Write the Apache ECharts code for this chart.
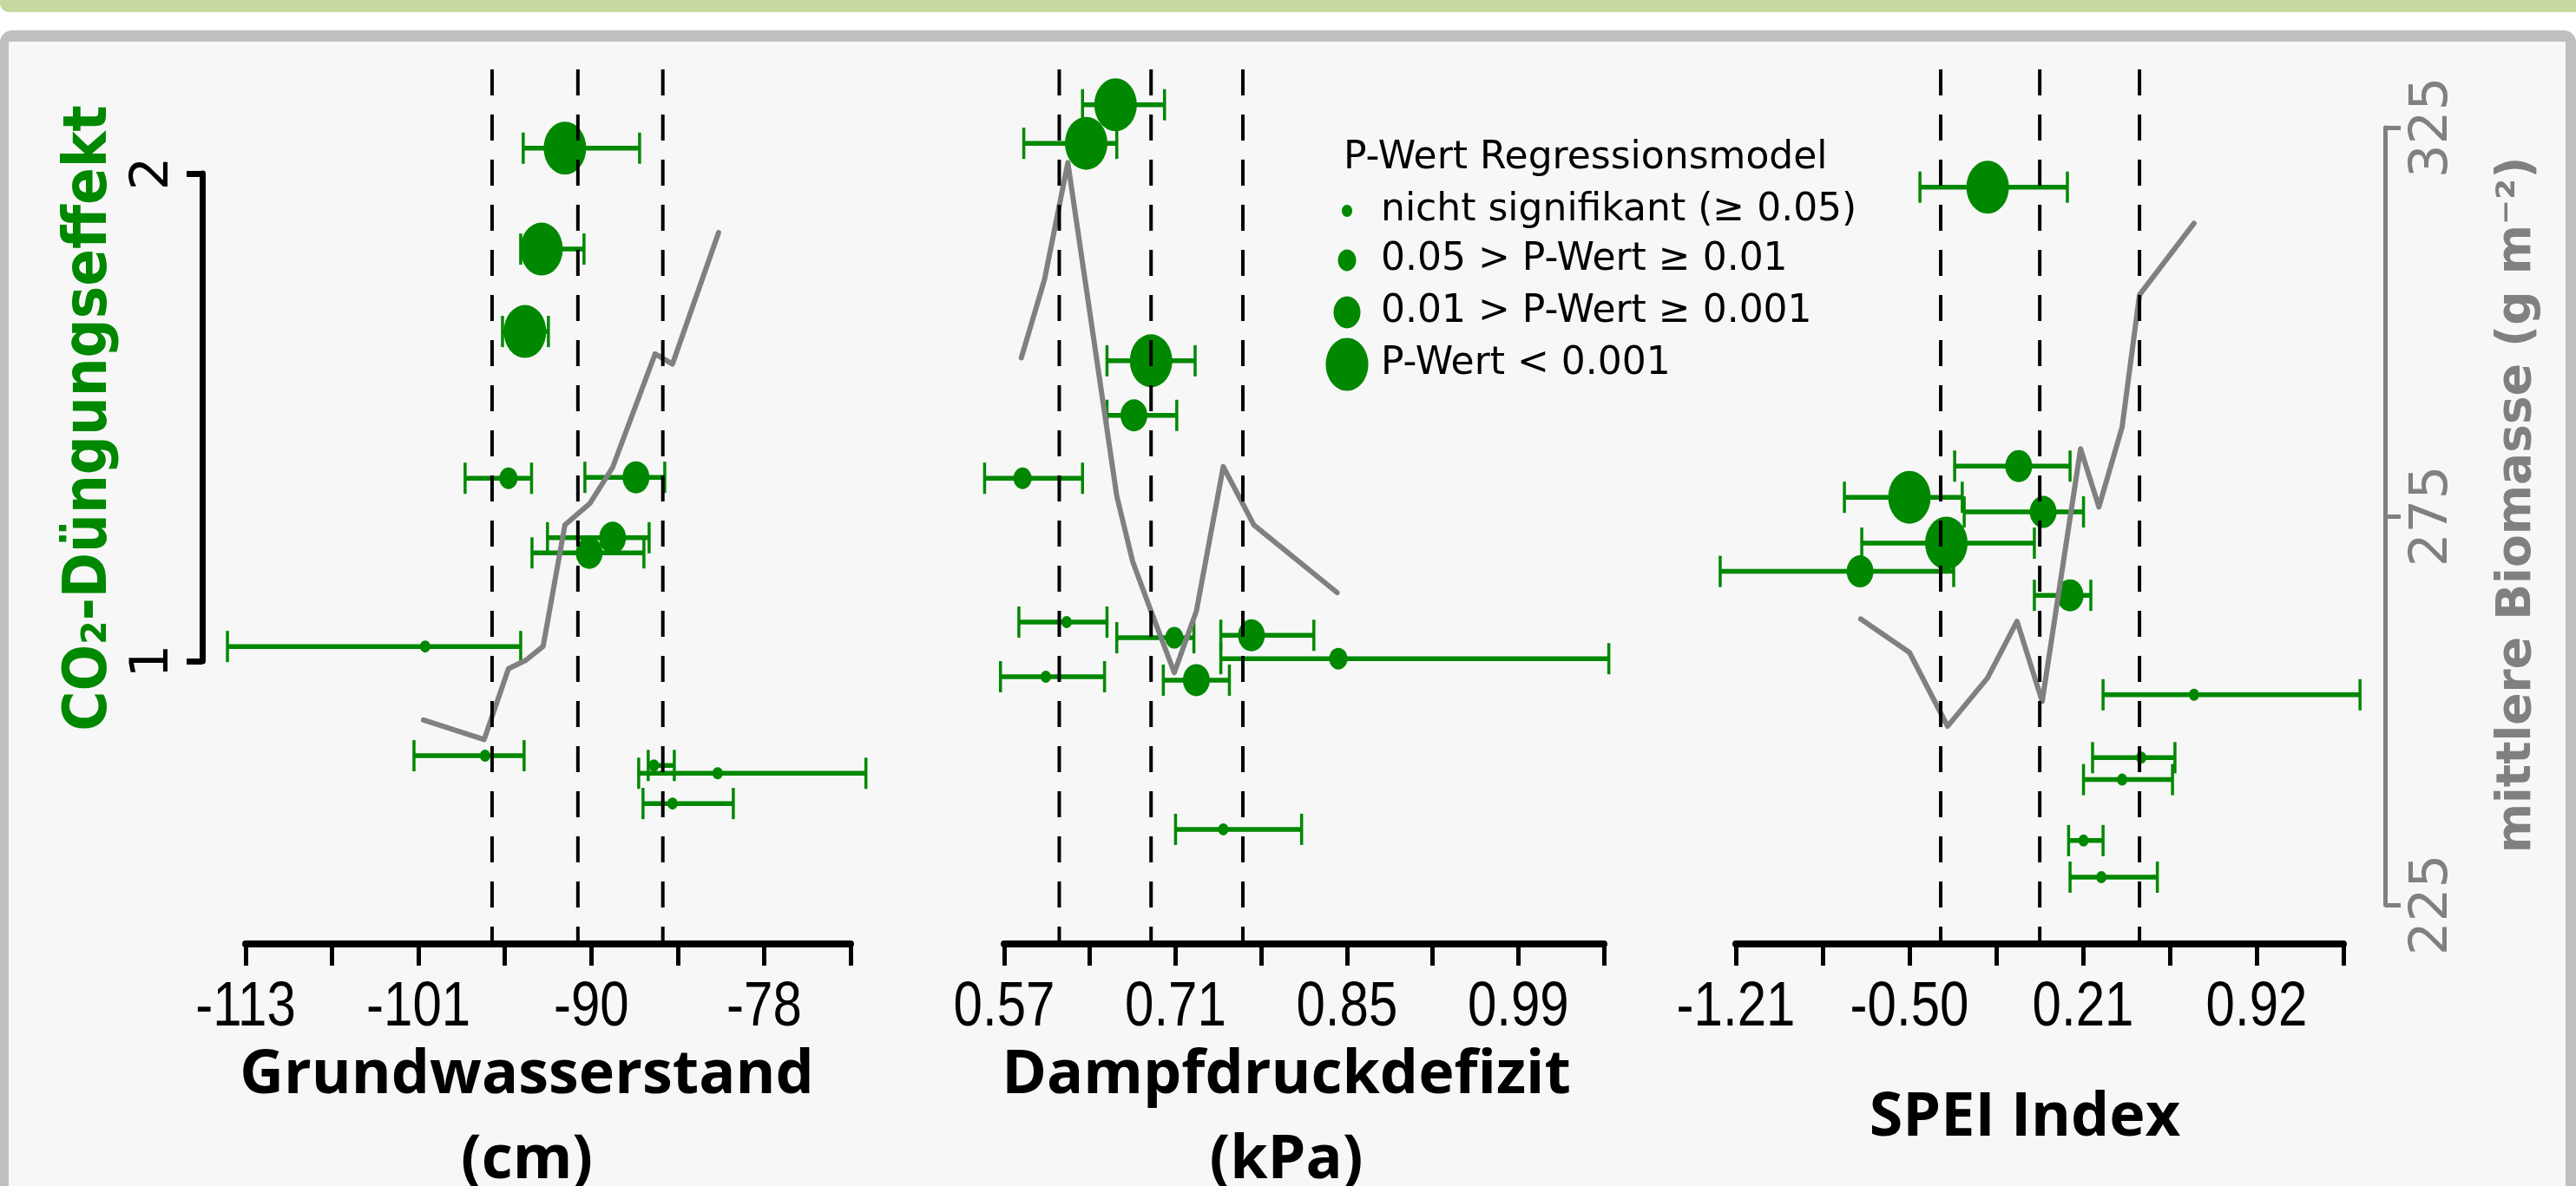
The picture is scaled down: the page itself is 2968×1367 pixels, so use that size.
<!DOCTYPE html>
<html>
<head>
<meta charset="utf-8">
<title>CO2-Düngungseffekt</title>
<script src="https://cdn.jsdelivr.net/npm/echarts@6/dist/echarts.min.js"></script>
<style>
html, body { margin: 0; padding: 0; width: 2968px; height: 1367px; overflow: hidden; background: #ffffff; }
.topbar { position: absolute; left: 0; top: 0; width: 2968px; height: 14px; background: #c5d9a1; border-radius: 0 0 0 10px; }
.frame { position: absolute; left: 0; top: 35px; width: 2946px; height: 1400px; background: #f7f7f7;
  border: 13px solid #bfbfbf; border-left-width: 10px; border-right-width: 12px; border-radius: 14px 14px 0 0; }
#chart { position: absolute; left: 0; top: 0; width: 2968px; height: 1367px; }
</style>
</head>
<body>
<div class="topbar"></div>
<div class="frame"></div>
<div id="chart"></div>
<script>
// Grundwasserstand (cm)
const gwMean = [-91.57, -93.14, -94.25, -95.36, -86.80, -88.37, -89.94, -100.95, -96.93, -85.60, -81.32, -84.35];
const gwLow = [-94.37, -94.54, -95.76, -98.27, -90.23, -92.74, -93.78, -114.22, -101.70, -85.98, -86.62, -86.33];
const gwHigh = [-86.56, -90.29, -92.68, -93.81, -84.87, -85.92, -86.27, -94.54, -94.31, -84.23, -71.37, -80.27];
const gwEffect = [2.052, 1.845, 1.676, 1.375, 1.377, 1.253, 1.222, 1.030, 0.806, 0.786, 0.770, 0.708];
const gwPClass = [3, 3, 3, 1, 2, 2, 2, 0, 0, 0, 0, 0];
const gwLineX = [-101.06, -96.99, -95.36, -94.19, -93.03, -91.57, -89.88, -88.37, -85.52, -84.35, -81.26];
const gwBiomass = [248.8, 246.3, 255.4, 256.5, 258.3, 273.9, 276.7, 281.3, 295.9, 294.6, 311.5];
const gwDashed = [-96.46, -90.70, -85.00];
const gwTicks = [-113, -107.2, -101.4, -95.6, -89.8, -84, -78.2, -72.4];
const gwTickLabels = ['-113', '', '-101', '', '-90', '', '-78', ''];

// Dampfdruckdefizit (kPa)
const vpdMean = [0.661, 0.637, 0.690, 0.676, 0.585, 0.621, 0.709, 0.772, 0.843, 0.604, 0.727, 0.749];
const vpdLow = [0.634, 0.586, 0.654, 0.654, 0.554, 0.582, 0.662, 0.747, 0.747, 0.567, 0.700, 0.710];
const vpdHigh = [0.701, 0.662, 0.726, 0.711, 0.634, 0.654, 0.725, 0.823, 1.064, 0.652, 0.754, 0.813];
const vpdEffect = [2.141, 2.062, 1.616, 1.504, 1.375, 1.080, 1.048, 1.053, 1.005, 0.968, 0.961, 0.655];
const vpdPClass = [3, 3, 3, 2, 1, 0, 1, 2, 1, 0, 2, 0];
const vpdLineX = [0.584, 0.603, 0.622, 0.662, 0.675, 0.690, 0.709, 0.727, 0.749, 0.774, 0.842];
const vpdBiomass = [295.4, 305.5, 320.5, 277.6, 269.2, 262.8, 254.9, 262.8, 281.4, 273.9, 265.2];
const vpdDashed = [0.615, 0.690, 0.765];
const vpdTicks = [0.57, 0.64, 0.71, 0.78, 0.85, 0.92, 0.99, 1.06];
const vpdTickLabels = ['0.57', '', '0.71', '', '0.85', '', '0.99', ''];

// SPEI Index
const speiMean = [-0.180, -0.053, -0.500, 0.047, -0.349, -0.702, 0.157, 0.664, 0.448, 0.370, 0.212, 0.285];
const speiLow = [-0.457, -0.315, -0.766, -0.276, -0.695, -1.274, 0.011, 0.292, 0.249, 0.212, 0.151, 0.157];
const speiHigh = [0.146, 0.157, -0.284, 0.212, 0.011, -0.319, 0.242, 1.343, 0.586, 0.576, 0.292, 0.514];
const speiEffect = [1.972, 1.400, 1.336, 1.306, 1.242, 1.184, 1.135, 0.931, 0.802, 0.757, 0.632, 0.557];
const speiPClass = [3, 2, 3, 2, 3, 2, 2, 0, 0, 0, 0, 0];
const speiLineX = [-0.699, -0.500, -0.344, -0.181, -0.060, 0.043, 0.200, 0.275, 0.370, 0.441, 0.664];
const speiBiomass = [261.8, 257.5, 248.0, 254.2, 261.5, 251.2, 283.7, 276.2, 286.5, 303.5, 312.7];
const speiDashed = [-0.372, 0.033, 0.441];
const speiTicks = [-1.21, -0.855, -0.5, -0.145, 0.21, 0.565, 0.92, 1.275];
const speiTickLabels = ['-1.21', '', '-0.50', '', '0.21', '', '0.92', ''];

// Achsen links / rechts
const effectTicks = [1, 2];
const effectTickLabels = ['1', '2'];
const biomassTicks = [225, 275, 325];
const biomassTickLabels = ['225', '275', '325'];

const legendTitle = 'P-Wert Regressionsmodel';
const legendLabels = ['nicht signifikant (\u2265 0.05)', '0.05 > P-Wert \u2265 0.01', '0.01 > P-Wert \u2265 0.001', 'P-Wert < 0.001'];

const GREEN = '#008800';
const GREY = '#808080';
const SIZES = [[12, 14], [21, 25], [31, 37], [49, 61]]; // Punktgröße je P-Wert-Klasse
const EFFECT_MIN = 0.42, EFFECT_MAX = 2.2135;
const BIOMASS_MIN = 220, BIOMASS_MAX = 332.5;

const panels = [
  { left: 283, width: 697, ticks: gwTicks, labels: gwTickLabels, mean: gwMean, low: gwLow, high: gwHigh,
    effect: gwEffect, pClass: gwPClass, lineX: gwLineX, biomass: gwBiomass, dashed: gwDashed },
  { left: 1157, width: 691, ticks: vpdTicks, labels: vpdTickLabels, mean: vpdMean, low: vpdLow, high: vpdHigh,
    effect: vpdEffect, pClass: vpdPClass, lineX: vpdLineX, biomass: vpdBiomass, dashed: vpdDashed },
  { left: 2000, width: 700, ticks: speiTicks, labels: speiTickLabels, mean: speiMean, low: speiLow, high: speiHigh,
    effect: speiEffect, pClass: speiPClass, lineX: speiLineX, biomass: speiBiomass, dashed: speiDashed }
];

function nearest(arr, v) {
  let best = 0;
  arr.forEach((a, i) => { if (Math.abs(a - v) < Math.abs(arr[best] - v)) best = i; });
  return best;
}

function renderErrorBar(params, api) {
  const a = api.coord([api.value(0), api.value(2)]);
  const b = api.coord([api.value(1), api.value(2)]);
  const st = { stroke: GREEN, lineWidth: 5.5 };
  const cap = { stroke: GREEN, lineWidth: 3.5 };
  return {
    type: 'group',
    children: [
      { type: 'line', shape: { x1: a[0], y1: a[1], x2: b[0], y2: b[1] }, style: st },
      { type: 'line', shape: { x1: a[0], y1: a[1] - 18, x2: a[0], y2: a[1] + 18 }, style: cap },
      { type: 'line', shape: { x1: b[0], y1: b[1] - 18, x2: b[0], y2: b[1] + 18 }, style: cap }
    ]
  };
}

function renderDash(params, api) {
  const top = api.coord([api.value(0), api.value(2)]);
  const bot = api.coord([api.value(0), api.value(1)]);
  return {
    type: 'line',
    shape: { x1: top[0], y1: top[1], x2: bot[0], y2: bot[1] },
    style: { stroke: '#000', lineWidth: 4, lineDash: [30, 22] }
  };
}

const grid = [], xAxis = [], yAxis = [], series = [];

panels.forEach((p, i) => {
  grid.push({ left: p.left, width: p.width, top: 80, height: 1008, outerBoundsMode: 'none', containLabel: false });
  xAxis.push({
    type: 'value', gridIndex: i, min: p.ticks[0], max: p.ticks[p.ticks.length - 1],
    axisLine: { show: true, onZero: false, lineStyle: { color: '#000', width: 8 } },
    axisTick: { show: true, length: 25, customValues: p.ticks, lineStyle: { color: '#000', width: 5 } },
    axisLabel: { show: false },
    splitLine: { show: false }
  });
  yAxis.push({ type: 'value', gridIndex: i, min: EFFECT_MIN, max: EFFECT_MAX, show: false });
  yAxis.push({ type: 'value', gridIndex: i, min: BIOMASS_MIN, max: BIOMASS_MAX, show: false });

  series.push({
    type: 'custom', xAxisIndex: i, yAxisIndex: 2 * i, z: 2, clip: false, silent: true,
    data: p.low.map((lo, k) => [lo, p.high[k], p.effect[k]]),
    encode: { x: [0, 1], y: 2 },
    renderItem: renderErrorBar
  });
  series.push({
    type: 'scatter', xAxisIndex: i, yAxisIndex: 2 * i, z: 3, silent: true, clip: false,
    data: p.mean.map((m, k) => [m, p.effect[k], p.pClass[k]]),
    symbol: 'circle', symbolSize: v => SIZES[v[2]],
    itemStyle: { color: GREEN, opacity: 1 }
  });
  series.push({
    type: 'line', xAxisIndex: i, yAxisIndex: 2 * i + 1, z: 4, silent: true, clip: false,
    data: p.lineX.map((x, k) => [x, p.biomass[k]]),
    symbol: 'none',
    lineStyle: { color: GREY, width: 6, cap: 'round', join: 'round' }
  });
  series.push({
    type: 'custom', xAxisIndex: i, yAxisIndex: 2 * i, z: 5, clip: false, silent: true,
    data: p.dashed.map(v => [v, EFFECT_MIN, EFFECT_MAX]),
    encode: { x: 0, y: [1, 2] },
    renderItem: renderDash
  });
  // Achsenbeschriftung unten (schmale, hohe Schrift wie im Original)
  series.push({
    type: 'custom', xAxisIndex: i, yAxisIndex: 2 * i, z: 6, clip: false, silent: true,
    data: p.ticks.map((t, k) => [t, EFFECT_MIN, k]).filter(d => p.labels[d[2]] !== ''),
    encode: { x: 0, y: 1 },
    renderItem: (params, api) => {
      const pos = api.coord([api.value(0), api.value(1)]);
      return {
        type: 'text', x: pos[0], y: pos[1] + 74, scaleY: 1.2,
        style: { text: p.labels[api.value(2)], font: '60px "Liberation Sans"', fill: '#000', align: 'center', verticalAlign: 'middle' }
      };
    }
  });
});

// linke Achse (CO2-Düngungseffekt)
grid.push({ left: 233, width: 10, top: 200, height: 562, outerBoundsMode: 'none', containLabel: false });
xAxis.push({ type: 'value', gridIndex: 3, show: false });
yAxis.push({
  type: 'value', gridIndex: 3, position: 'left', min: 1, max: 2,
  axisLine: { show: true, onZero: false, lineStyle: { color: '#000', width: 7 } },
  axisTick: { show: true, length: 18, customValues: effectTicks, lineStyle: { color: '#000', width: 7 } },
  axisLabel: { customValues: effectTicks, rotate: 90, margin: 25, color: '#000', fontSize: 61, fontFamily: 'DejaVu Sans',
    formatter: v => effectTickLabels[nearest(effectTicks, v)] },
  splitLine: { show: false }
});

// rechte Achse (Biomasse)
grid.push({ left: 2700, width: 48, top: 147, height: 896, outerBoundsMode: 'none', containLabel: false });
xAxis.push({ type: 'value', gridIndex: 4, show: false });
yAxis.push({
  type: 'value', gridIndex: 4, position: 'right', min: 225, max: 325,
  axisLine: { show: true, onZero: false, lineStyle: { color: GREY, width: 5 } },
  axisTick: { show: true, length: 18, customValues: biomassTicks, lineStyle: { color: GREY, width: 5 } },
  axisLabel: { customValues: biomassTicks, rotate: 90, margin: 25, color: GREY, fontSize: 61, fontFamily: 'DejaVu Sans',
    formatter: v => biomassTickLabels[nearest(biomassTicks, v)] },
  splitLine: { show: false }
});

const graphic = [
  { type: 'text', x: 104, y: 482, rotation: Math.PI / 2, scaleX: 0.9, silent: true,
    style: { text: 'CO\u2082-D\u00fcngungseffekt', font: 'bold 70px "DejaVu Sans"', fill: GREEN, align: 'center', verticalAlign: 'middle' } },
  { type: 'text', x: 2901, y: 582, rotation: Math.PI / 2, silent: true,
    style: { text: 'mittlere Biomasse (g m\u207b\u00b2)', font: 'bold 55px "DejaVu Sans"', fill: GREY, align: 'center', verticalAlign: 'middle' } },
  { type: 'text', x: 607, y: 1289, silent: true,
    style: { text: 'Grundwasserstand\n(cm)', font: 'bold 70px "Open Sans"', lineHeight: 98, fill: '#000', align: 'center', verticalAlign: 'middle' } },
  { type: 'text', x: 1482, y: 1289, silent: true,
    style: { text: 'Dampfdruckdefizit\n(kPa)', font: 'bold 70px "Open Sans"', lineHeight: 98, fill: '#000', align: 'center', verticalAlign: 'middle' } },
  { type: 'text', x: 2333, y: 1289, silent: true,
    style: { text: 'SPEI Index', font: 'bold 70px "Open Sans"', lineHeight: 98, fill: '#000', align: 'center', verticalAlign: 'middle' } },
  { type: 'text', x: 1548, y: 183, silent: true,
    style: { text: legendTitle, font: '44px "DejaVu Sans"', fill: '#000', verticalAlign: 'middle' } }
];
const legendY = [243, 300, 360, 420];
legendLabels.forEach((t, k) => {
  graphic.push({ type: 'ellipse', silent: true, shape: { cx: 1552, cy: legendY[k], rx: SIZES[k][0] / 2, ry: SIZES[k][1] / 2 }, style: { fill: GREEN } });
  graphic.push({ type: 'text', x: 1591, y: legendY[k], silent: true,
    style: { text: t, font: '44px "DejaVu Sans"', fill: '#000', verticalAlign: 'middle' } });
});

const chart = echarts.init(document.getElementById('chart'), null, { renderer: 'canvas' });
chart.setOption({
  backgroundColor: 'transparent',
  animation: false,
  grid: grid,
  xAxis: xAxis,
  yAxis: yAxis,
  series: series,
  graphic: graphic
});
</script>
</body>
</html>
